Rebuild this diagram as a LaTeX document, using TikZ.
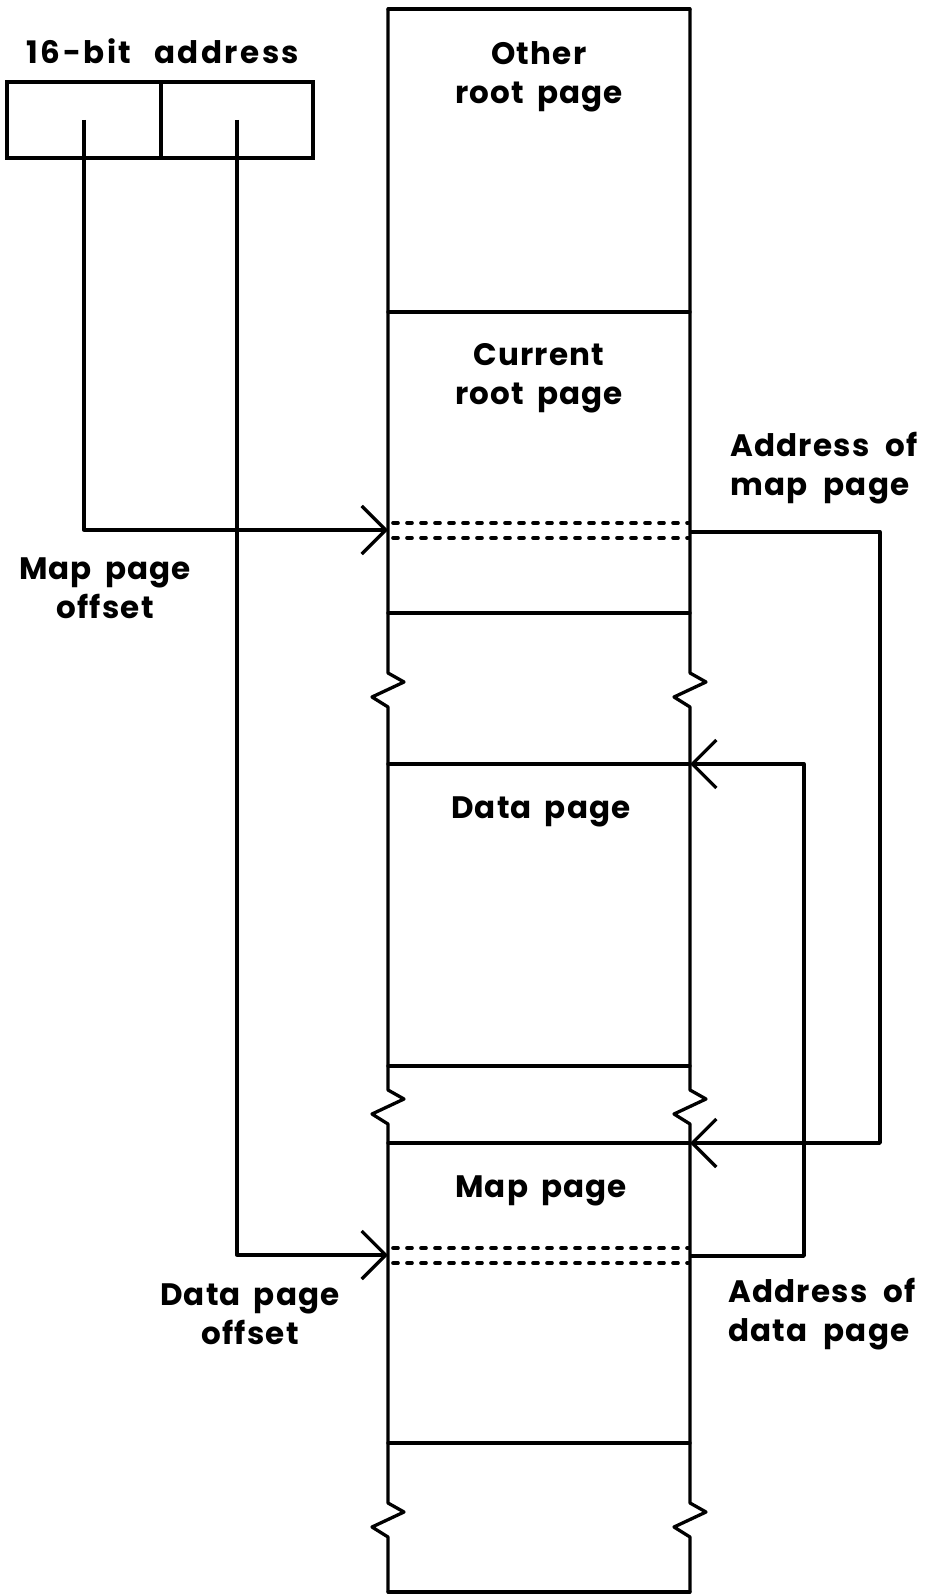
\documentclass[tikz,border=0pt]{standalone}
\usepackage{fontspec}
\setmainfont{Poppins}[LetterSpace=4]
\newfontfamily\titlefont{Poppins}[LetterSpace=8]
\usetikzlibrary{arrows.meta}
\begin{document}
\begin{tikzpicture}[x=1pt,y=-1pt,
  wall/.style={line width=3.3pt, line join=round, line cap=round},
  slot/.style={line width=3.6pt, line cap=round, dash pattern=on 5pt off 9pt},
  field/.style={draw, line width=3.3pt, inner sep=0pt, outer sep=0pt, minimum height=76pt},
  conn/.style={line width=3.3pt, line join=round, -{Straight Barb[length=24pt,width=48pt]}},
  lbl/.style={font=\fontsize{31}{39}\selectfont\bfseries, align=center, inner sep=0pt},
  lbll/.style={lbl, align=left, anchor=west}]
% page size and background
\fill[white] (0,0) rectangle (933,1594);
\useasboundingbox (0,0) rectangle (933,1594);

% the 16-bit address, split in two fields
\node[lbl] (addrtitle) at (163,51) {\titlefont\bfseries 16-bit\hspace{14pt} address};
\node[field, minimum width=154pt] (hi) at (84,120) {};
\node[field, minimum width=152pt] (lo) at (237,120) {};

% memory column: both walls with break marks
\foreach \x in {388,690} {
  \draw[wall] (\x,9) -- (\x,673) -- ++(16,9) -- ++(-32,15) -- ++(16,10)
    -- (\x,1090) -- ++(16,9) -- ++(-32,15) -- ++(16,10)
    -- (\x,1503) -- ++(16,9) -- ++(-32,15) -- ++(16,10) -- (\x,1592);
}
% page boundaries
\foreach \y in {9,312,613,764,1066,1143,1443,1592}
  \draw[wall] (388,\y) -- (690,\y);
% selected entries
\draw[slot] (393,523) -- (688,523);
\draw[slot] (393,538) -- (688,538);
\draw[slot] (393,1248) -- (688,1248);
\draw[slot] (393,1263) -- (688,1263);

% page names
\node[lbl] (otherroot) at (539,77) {Other\\root\, page};
\node[lbl] (curroot) at (539,378) {Current\\root\, page};
\node[lbl] (datapage) at (541,812) {Data\, page};
\node[lbl] (mappage) at (541,1191) {Map\, page};

% side labels
\node[lbll] (addrmap) at (730,468) {Address\hspace{8pt} of\\map\hspace{8pt} page};
\node[lbll] (addrdata) at (728,1314) {Address\hspace{8pt} of\\data\hspace{8pt} page};
\node[lbl] (mapoff) at (105,588) {Map\, page\\offset};
\node[lbl] (dataoff) at (250,1314) {Data\, page\\offset};

% connection points on the column
\coordinate (mapin) at (388,530);
\coordinate (mapout) at (690,532);
\coordinate (datain) at (388,1255);
\coordinate (dataout) at (690,1256);
\coordinate (maptop) at (690,1143);
\coordinate (datatop) at (690,764);
\coordinate (mapturn) at (880,1143);
\coordinate (dataturn) at (804,764);

% address fields select entries
\draw[conn] (hi.center) |- (mapin);
\draw[conn] (lo.center) |- (datain);
% entries point to pages
\draw[conn] (mapout) -| (mapturn) -- (maptop);
\draw[conn] (dataout) -| (dataturn) -- (datatop);
\end{tikzpicture}
\end{document}
